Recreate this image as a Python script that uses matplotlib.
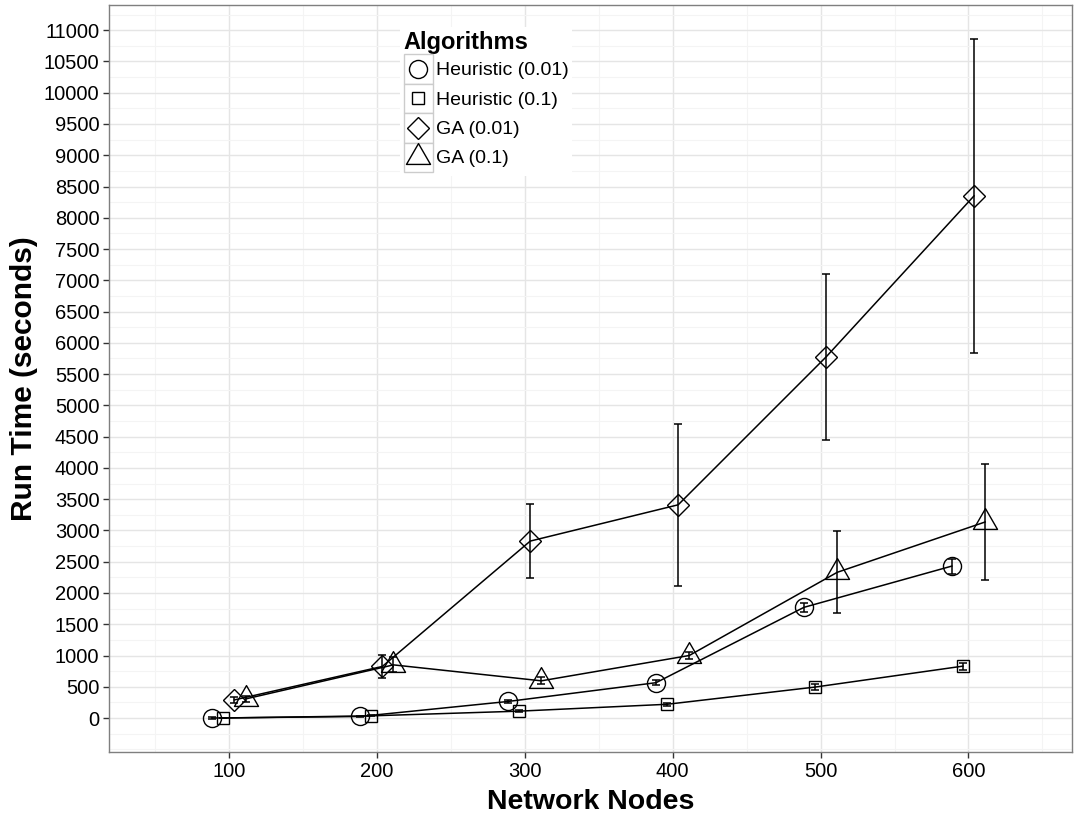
import numpy as np
import matplotlib
matplotlib.use("Agg")
import matplotlib.pyplot as plt
from matplotlib.path import Path
from matplotlib.patches import Rectangle
from matplotlib.lines import Line2D
from matplotlib.legend_handler import HandlerBase
from matplotlib.ticker import MultipleLocator

plt.rcParams['font.family'] = ['Liberation Sans', 'DejaVu Sans']

# data
nodes = [100, 200, 300, 400, 500, 600]
algorithms = ["Heuristic (0.01)", "Heuristic (0.1)", "GA (0.01)", "GA (0.1)"]

heur_001 = [0, 25, 265, 565, 1770, 2430]
heur_001_sd = [10, 15, 25, 40, 70, 120]
heur_01 = [0, 35, 110, 220, 495, 830]
heur_01_sd = [5, 10, 15, 20, 50, 55]
ga_001 = [290, 825, 2830, 3410, 5775, 8350]
ga_001_sd = [50, 187, 585, 1293, 1333, 2510]
ga_01 = [305, 850, 595, 1000, 2330, 3135]
ga_01_sd = [50, 120, 55, 55, 658, 927]

means = [heur_001, heur_01, ga_001, ga_01]
sds = [heur_001_sd, heur_01_sd, ga_001_sd, ga_01_sd]

# equilateral triangle like ggplot shape 2
tri = Path([(-1, -0.577), (1, -0.577), (0, 1.155), (-1, -0.577)],
           [Path.MOVETO, Path.LINETO, Path.LINETO, Path.CLOSEPOLY])
markers = ["o", "s", "D", tri]
sizes = [13, 9.3, 11.5, 20]

dodge = 30
offsets = (np.arange(len(algorithms)) - 1.5) * dodge / len(algorithms)


class BoxedKey(HandlerBase):
    """Legend key drawn inside a grey bordered square like ggplot."""

    def create_artists(self, legend, orig_handle, xdescent, ydescent,
                       width, height, fontsize, trans):
        box = Rectangle((-xdescent, -ydescent), width, height,
                        facecolor="white", edgecolor="#cccccc", lw=1.0,
                        transform=trans)
        mark = Line2D([width / 2 - xdescent], [height / 2 - ydescent],
                      marker=orig_handle.get_marker(),
                      ms=orig_handle.get_markersize(),
                      mfc="none", mec="black", mew=1.0, ls="none",
                      transform=trans)
        return [box, mark]


fig = plt.figure(figsize=(10.8, 8.18), dpi=100)
ax = fig.add_axes([0.101, 0.0807, 0.8916, 0.9132])

handles = []
for i, name in enumerate(algorithms):
    xs = np.array(nodes) + offsets[i]
    ax.errorbar(xs, means[i], yerr=sds[i], fmt="none", ecolor="black",
                elinewidth=1.1, capsize=3, capthick=1.1, zorder=3)
    ax.plot(xs, means[i], color="black", lw=1.1, zorder=3)
    ax.plot(xs, means[i], ls="none", marker=markers[i], ms=sizes[i],
            mfc="none", mec="black", mew=1.0, zorder=4)
    handles.append(Line2D([], [], ls="none", marker=markers[i],
                          ms=sizes[i], mfc="none", mec="black"))

ax.set_xlim(19, 670)
ax.set_ylim(-543, 11403)
ax.xaxis.set_minor_locator(MultipleLocator(50))
ax.yaxis.set_minor_locator(MultipleLocator(250))
ax.set_xticks(nodes)
ax.set_yticks(np.arange(0, 11001, 500))

ax.grid(which="major", color="#e5e5e5", lw=1.0, zorder=0)
ax.grid(which="minor", color="#f4f4f4", lw=0.8, zorder=0)
ax.set_axisbelow(True)
for s in ax.spines.values():
    s.set_color("#7f7f7f")
    s.set_linewidth(1.0)
ax.tick_params(which="major", length=4, width=1.0, color="#333333",
               labelsize=14.5, labelcolor="black", pad=3)
ax.tick_params(which="minor", length=0)

ax.set_xlabel("Network Nodes", fontsize=20.5, fontweight="bold", labelpad=6)
ax.set_ylabel("Run Time (seconds)", fontsize=21.5, fontweight="bold", labelpad=9)
ax.yaxis.set_label_coords(-0.074, 0.5)

leg = ax.legend(handles, algorithms, title="Algorithms",
                handler_map={Line2D: BoxedKey()},
                loc="upper left", bbox_to_anchor=(0.302, 0.97),
                fontsize=14, title_fontproperties={"weight": "bold", "size": 17},
                alignment="left", frameon=True, framealpha=1.0,
                edgecolor="white", fancybox=False, borderpad=0.2,
                handlelength=1.5, handleheight=1.95, labelspacing=0.0,
                handletextpad=0.15, borderaxespad=0)
leg.get_frame().set_linewidth(0)

fig.savefig("out.png", dpi=100)
